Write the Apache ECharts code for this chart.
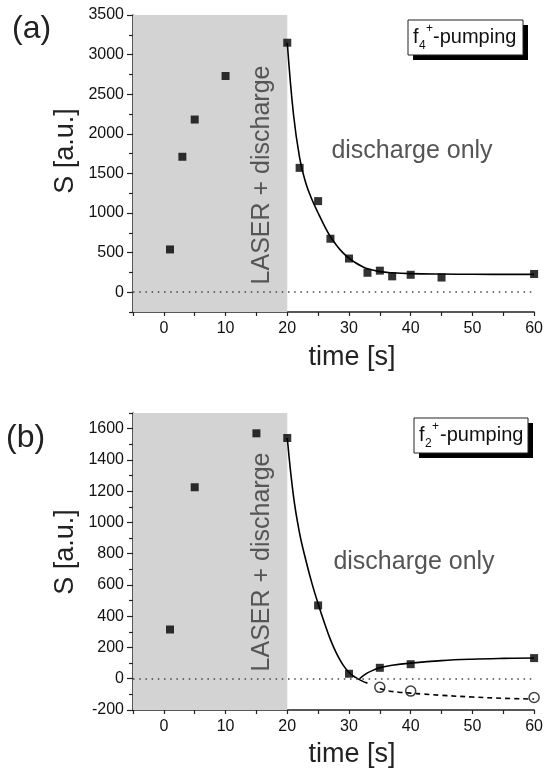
<!DOCTYPE html>
<html><head><meta charset="utf-8">
<script src="https://cdn.jsdelivr.net/npm/echarts@6/dist/echarts.min.js"></script>
<style>html,body{margin:0;padding:0;background:#fff}#c{width:546px;height:773px}</style>
</head><body><div id="c"></div>
<script>
// ---- Panel (a): f4+ pumping ----
const aTime = [1, 3, 5, 10, 20, 22, 25, 27, 30, 33, 35, 37, 40, 45, 60];
const aS    = [540, 1710, 2180, 2730, 3150, 1570, 1150, 675, 425, 245, 272, 200, 220, 185, 230];
const aFitTime = [20, 21, 22, 23, 24, 25, 26, 27, 28, 29, 30, 31, 32, 33, 35, 37, 40, 45, 50, 60];
const aFitS    = [3150, 2250, 1700, 1380, 1170, 1000, 840, 700, 590, 500, 430, 375, 330, 295, 260, 245, 235, 229, 226, 225];
const aYTicks = [0, 500, 1000, 1500, 2000, 2500, 3000, 3500];
const aYMinor = [-250, 250, 750, 1250, 1750, 2250, 2750, 3250];

// ---- Panel (b): f2+ pumping ----
const bTime = [1, 5, 15, 20, 25, 30, 35, 40, 60];
const bS    = [315, 1225, 1570, 1540, 469, 32, 70, 93, 132];
const bOpenTime = [35, 40, 60];
const bOpenS    = [-55, -79, -120];
const bFit1Time = [20, 21, 22, 23, 24, 25, 26, 27, 28, 29, 30, 31, 32, 33];
const bFit1S    = [1540, 1170, 930, 760, 610, 480, 360, 250, 160, 90, 40, 10, -12, -28];
const bFit2Time = [31.7, 32.5, 33.5, 35, 37, 40, 45, 50, 55, 60];
const bFit2S    = [0, 25, 47, 70, 86, 100, 116, 125, 130, 133];
const bDashTime = [35, 36.5, 38, 40, 42, 45, 50, 55, 60];
const bDashS    = [-62, -78, -86, -92, -98, -106, -117, -125, -130];
const bYTicks = [-200, 0, 200, 400, 600, 800, 1000, 1200, 1400, 1600];
const bYMinor = [-100, 100, 300, 500, 700, 900, 1100, 1300, 1500, 1700];

const xTicks = [-5, 0, 5, 10, 15, 20, 25, 30, 35, 40, 45, 50, 55, 60];
const xLabels = [0, 10, 20, 30, 40, 50, 60];

const FONT = '"Liberation Sans", Arial, sans-serif';
const pair = (xs, ys) => xs.map((x, i) => [x, ys[i]]);
const plain = v => String(v);

const axisLineStyle = { color: '#222', width: 1.5 };

function xAxisDef(gi) {
  return {
    type: 'value', gridIndex: gi, min: -5, max: 60,
    axisLine: { show: true, lineStyle: axisLineStyle, onZero: false },
    axisTick: { show: true, length: 4, lineStyle: { color: '#222', width: 1.2 }, customValues: xTicks },
    axisLabel: { customValues: xLabels, formatter: plain, color: '#111', fontSize: 16, fontFamily: FONT, margin: 9 },
    splitLine: { show: false }
  };
}
function yAxisDef(gi, min, max, ticks) {
  return {
    type: 'value', gridIndex: gi, min: min, max: max,
    axisLine: { show: true, lineStyle: axisLineStyle, onZero: false },
    axisTick: { show: true, length: 6, lineStyle: { color: '#222', width: 1.2 }, customValues: ticks },
    axisLabel: { customValues: ticks, formatter: plain, color: '#111', fontSize: 16, fontFamily: FONT, margin: 9 },
    splitLine: { show: false }
  };
}
function yMinorDef(gi, min, max, ticks) {
  return {
    type: 'value', gridIndex: gi, min: min, max: max, position: 'left',
    axisLine: { show: false, onZero: false },
    axisTick: { show: true, length: 4, lineStyle: { color: '#222', width: 1.2 }, customValues: ticks },
    axisLabel: { show: false },
    splitLine: { show: false }
  };
}

const sq = { symbol: 'rect', symbolSize: 8, itemStyle: { color: '#000' } };
const zeroLine = {
  silent: true, symbol: 'none', label: { show: false },
  lineStyle: { type: [1.5, 4.7], color: '#444', width: 1.5 },
  data: [{ yAxis: 0 }]
};
const grayArea = {
  silent: true, itemStyle: { color: '#d3d3d3' },
  data: [[{ xAxis: -5 }, { xAxis: 20 }]]
};

const option = {
  animation: false,
  backgroundColor: '#fff',
  grid: [
    { left: 133, top: 15, width: 402, height: 297 },
    { left: 133, top: 413, width: 402, height: 297 }
  ],
  xAxis: [xAxisDef(0), xAxisDef(1)],
  yAxis: [
    yAxisDef(0, -250, 3500, aYTicks),
    yAxisDef(1, -200, 1700, bYTicks),
    yMinorDef(0, -250, 3500, aYMinor),
    yMinorDef(1, -200, 1700, bYMinor)
  ],
  series: [
    { type: 'line', xAxisIndex: 0, yAxisIndex: 0, data: [], markArea: grayArea, markLine: zeroLine, z: 1 },
    { type: 'line', xAxisIndex: 0, yAxisIndex: 0, data: pair(aFitTime, aFitS), smooth: 0.4, showSymbol: false,
      lineStyle: { color: '#000', width: 1.6 }, z: 3 },
    Object.assign({ type: 'scatter', xAxisIndex: 0, yAxisIndex: 0, data: pair(aTime, aS), z: 4 }, sq),

    { type: 'line', xAxisIndex: 1, yAxisIndex: 1, data: [], markArea: grayArea, markLine: zeroLine, z: 1 },
    { type: 'line', xAxisIndex: 1, yAxisIndex: 1, data: pair(bFit1Time, bFit1S), smooth: 0.4, showSymbol: false,
      lineStyle: { color: '#000', width: 1.6 }, z: 3 },
    { type: 'line', xAxisIndex: 1, yAxisIndex: 1, data: pair(bFit2Time, bFit2S), smooth: 0.4, showSymbol: false,
      lineStyle: { color: '#000', width: 1.6 }, z: 3 },
    { type: 'line', xAxisIndex: 1, yAxisIndex: 1, data: pair(bDashTime, bDashS), smooth: 0.4, showSymbol: false,
      lineStyle: { color: '#000', width: 1.6, type: [5, 4] }, z: 3 },
    Object.assign({ type: 'scatter', xAxisIndex: 1, yAxisIndex: 1, data: pair(bTime, bS), z: 4 }, sq),
    { type: 'scatter', xAxisIndex: 1, yAxisIndex: 1, data: pair(bOpenTime, bOpenS), z: 4,
      symbol: 'circle', symbolSize: 10,
      itemStyle: { color: 'rgba(255,255,255,0)', borderColor: '#111', borderWidth: 1.5 } }
  ],
  graphic: [
    // panel labels
    { type: 'text', left: 12, top: 13, style: { text: '(a)', font: '32px ' + FONT, fill: '#222' } },
    { type: 'text', left: 6, top: 422, style: { text: '(b)', font: '32px ' + FONT, fill: '#222' } },
    // y axis titles
    { type: 'text', x: 66, y: 151, rotation: Math.PI / 2,
      style: { text: 'S [a.u.]', font: '27px ' + FONT, fill: '#222', align: 'center', verticalAlign: 'middle' } },
    { type: 'text', x: 66, y: 552, rotation: Math.PI / 2,
      style: { text: 'S [a.u.]', font: '27px ' + FONT, fill: '#222', align: 'center', verticalAlign: 'middle' } },
    // x axis titles
    { type: 'text', x: 352, y: 358, style: { text: 'time [s]', font: '27px ' + FONT, fill: '#222', align: 'center', verticalAlign: 'middle' } },
    { type: 'text', x: 352, y: 755, style: { text: 'time [s]', font: '27px ' + FONT, fill: '#222', align: 'center', verticalAlign: 'middle' } },
    // region annotations
    { type: 'text', x: 262, y: 175, rotation: Math.PI / 2, z: 10,
      style: { text: 'LASER + discharge', font: '25px ' + FONT, fill: '#555', align: 'center', verticalAlign: 'middle' } },
    { type: 'text', x: 262, y: 562, rotation: Math.PI / 2, z: 10,
      style: { text: 'LASER + discharge', font: '25px ' + FONT, fill: '#555', align: 'center', verticalAlign: 'middle' } },
    { type: 'text', x: 412, y: 151, z: 10,
      style: { text: 'discharge only', font: '25px ' + FONT, fill: '#555', align: 'center', verticalAlign: 'middle' } },
    { type: 'text', x: 414, y: 562, z: 10,
      style: { text: 'discharge only', font: '25px ' + FONT, fill: '#555', align: 'center', verticalAlign: 'middle' } },
    // legend box (a)
    { type: 'rect', shape: { x: 413, y: 25, width: 115, height: 35 }, style: { fill: '#000' }, z: 10 },
    { type: 'rect', shape: { x: 408, y: 20, width: 115, height: 35 }, style: { fill: '#fff', stroke: '#222', lineWidth: 1 }, z: 11 },
    { type: 'text', x: 413, y: 37, z: 12, style: { text: 'f', font: '20px ' + FONT, fill: '#111', align: 'left', verticalAlign: 'middle' } },
    { type: 'text', x: 419, y: 46, z: 12, style: { text: '4', font: '12px ' + FONT, fill: '#111', align: 'left', verticalAlign: 'middle' } },
    { type: 'text', x: 426, y: 29, z: 12, style: { text: '+', font: '12px ' + FONT, fill: '#111', align: 'left', verticalAlign: 'middle' } },
    { type: 'text', x: 433, y: 37, z: 12, style: { text: '-pumping', font: '20px ' + FONT, fill: '#111', align: 'left', verticalAlign: 'middle' } },
    // legend box (b)
    { type: 'rect', shape: { x: 419, y: 423, width: 114, height: 35 }, style: { fill: '#000' }, z: 10 },
    { type: 'rect', shape: { x: 414, y: 418, width: 114, height: 35 }, style: { fill: '#fff', stroke: '#222', lineWidth: 1 }, z: 11 },
    { type: 'text', x: 419, y: 435, z: 12, style: { text: 'f', font: '20px ' + FONT, fill: '#111', align: 'left', verticalAlign: 'middle' } },
    { type: 'text', x: 425, y: 444, z: 12, style: { text: '2', font: '12px ' + FONT, fill: '#111', align: 'left', verticalAlign: 'middle' } },
    { type: 'text', x: 432, y: 427, z: 12, style: { text: '+', font: '12px ' + FONT, fill: '#111', align: 'left', verticalAlign: 'middle' } },
    { type: 'text', x: 440, y: 435, z: 12, style: { text: '-pumping', font: '20px ' + FONT, fill: '#111', align: 'left', verticalAlign: 'middle' } }
  ]
};

const chart = echarts.init(document.getElementById('c'), null, { renderer: 'canvas' });
chart.setOption(option);
</script>
</body></html>
